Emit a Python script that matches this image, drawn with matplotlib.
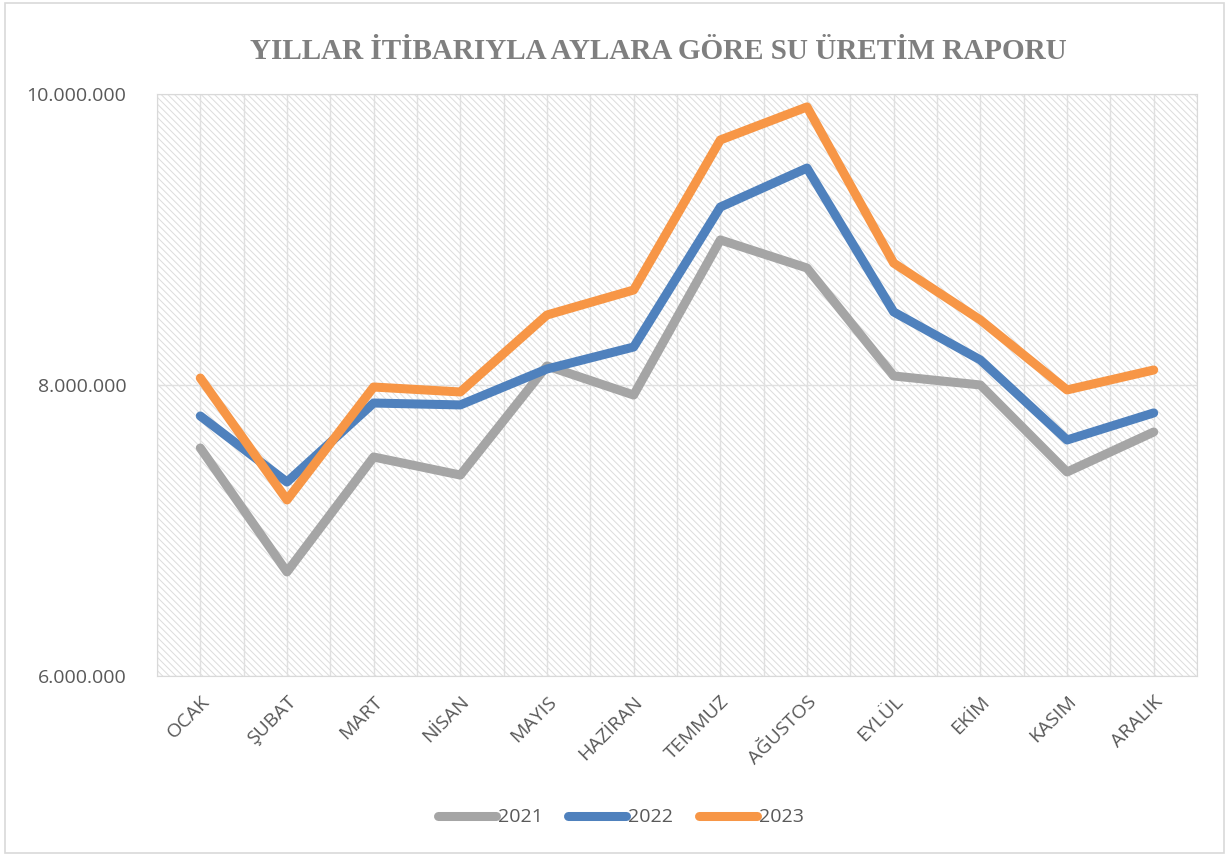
import matplotlib.pyplot as plt
from matplotlib.patches import Rectangle
from matplotlib.ticker import FuncFormatter, MultipleLocator

months = ["OCAK", "ŞUBAT", "MART", "NİSAN", "MAYIS", "HAZİRAN",
          "TEMMUZ", "AĞUSTOS", "EYLÜL", "EKİM", "KASIM", "ARALIK"]

uretim_2021 = [7567000, 6715000, 7505000, 7381000, 8131000, 7931000,
               8997000, 8804000, 8062000, 8000000, 7402000, 7677000]
uretim_2022 = [7787000, 7333000, 7876000, 7863000, 8110000, 8261000,
               9223000, 9491000, 8502000, 8172000, 7622000, 7808000]
uretim_2023 = [8048000, 7210000, 7986000, 7952000, 8481000, 8653000,
               9684000, 9911000, 8838000, 8447000, 7966000, 8103000]

series = [("2021", uretim_2021, "#a5a5a5"),
          ("2022", uretim_2022, "#4f81bd"),
          ("2023", uretim_2023, "#f79646")]

plt.rcParams["hatch.linewidth"] = 0.7

fig = plt.figure(figsize=(12.29, 8.56), dpi=100)
fig.patches.append(Rectangle((0.004, 0.004), 0.992, 0.992, transform=fig.transFigure,
                             fill=False, edgecolor="#d9d9d9", linewidth=1.2))

ax = fig.add_axes([0.1277, 0.2103, 0.8463, 0.6799])

# hatched plot area background
ax.add_patch(Rectangle((0, 0), 1, 1, transform=ax.transAxes, facecolor="white",
                       edgecolor="#dcdcdc", hatch="\\\\\\\\\\", linewidth=0, zorder=0))

x = list(range(len(months)))
for name, vals, col in series:
    ax.plot(x, vals, color=col, linewidth=6.5, solid_capstyle="round",
            solid_joinstyle="round", label=name, zorder=3)

ax.set_xlim(-0.5, 11.5)
ax.set_ylim(6000000, 10000000)
ax.yaxis.set_major_locator(MultipleLocator(2000000))
ax.yaxis.set_major_formatter(FuncFormatter(lambda v, p: f"{int(v):,}".replace(",", ".")))
ax.xaxis.set_minor_locator(MultipleLocator(0.5))
ax.set_xticks(x)
ax.set_xticklabels(months, rotation=45, ha="right", rotation_mode="anchor",
                   fontsize=14, color="#595959", family="Open Sans")
for lab in ax.get_yticklabels():
    lab.set_fontsize(14)
    lab.set_color("#595959")
    lab.set_family("Open Sans")

ax.grid(True, which="both", axis="x", color="#e0e0e0", linewidth=1, zorder=1)
ax.grid(True, which="major", axis="y", color="#e0e0e0", linewidth=1, zorder=1)
ax.set_axisbelow(True)
ax.tick_params(axis="both", which="both", length=0)
ax.tick_params(axis="x", pad=12)
ax.tick_params(axis="y", pad=22)
for sp in ax.spines.values():
    sp.set_color("#d9d9d9")

fig.text(0.536, 0.94, "YILLAR İTİBARIYLA AYLARA GÖRE SU ÜRETİM RAPORU",
         ha="center", va="center", fontsize=21, fontweight="bold",
         color="#7f7f7f", family="Liberation Serif")

leg = fig.legend(loc="center", bbox_to_anchor=(0.505, 0.045), ncol=3, frameon=False,
                 handlelength=3.0, handletextpad=0.1, columnspacing=1.3,
                 prop={"family": "Open Sans", "size": 14})
for t in leg.get_texts():
    t.set_color("#595959")
for h in leg.get_lines():
    h.set_solid_capstyle("round")

fig.savefig("out.png", dpi=100)
